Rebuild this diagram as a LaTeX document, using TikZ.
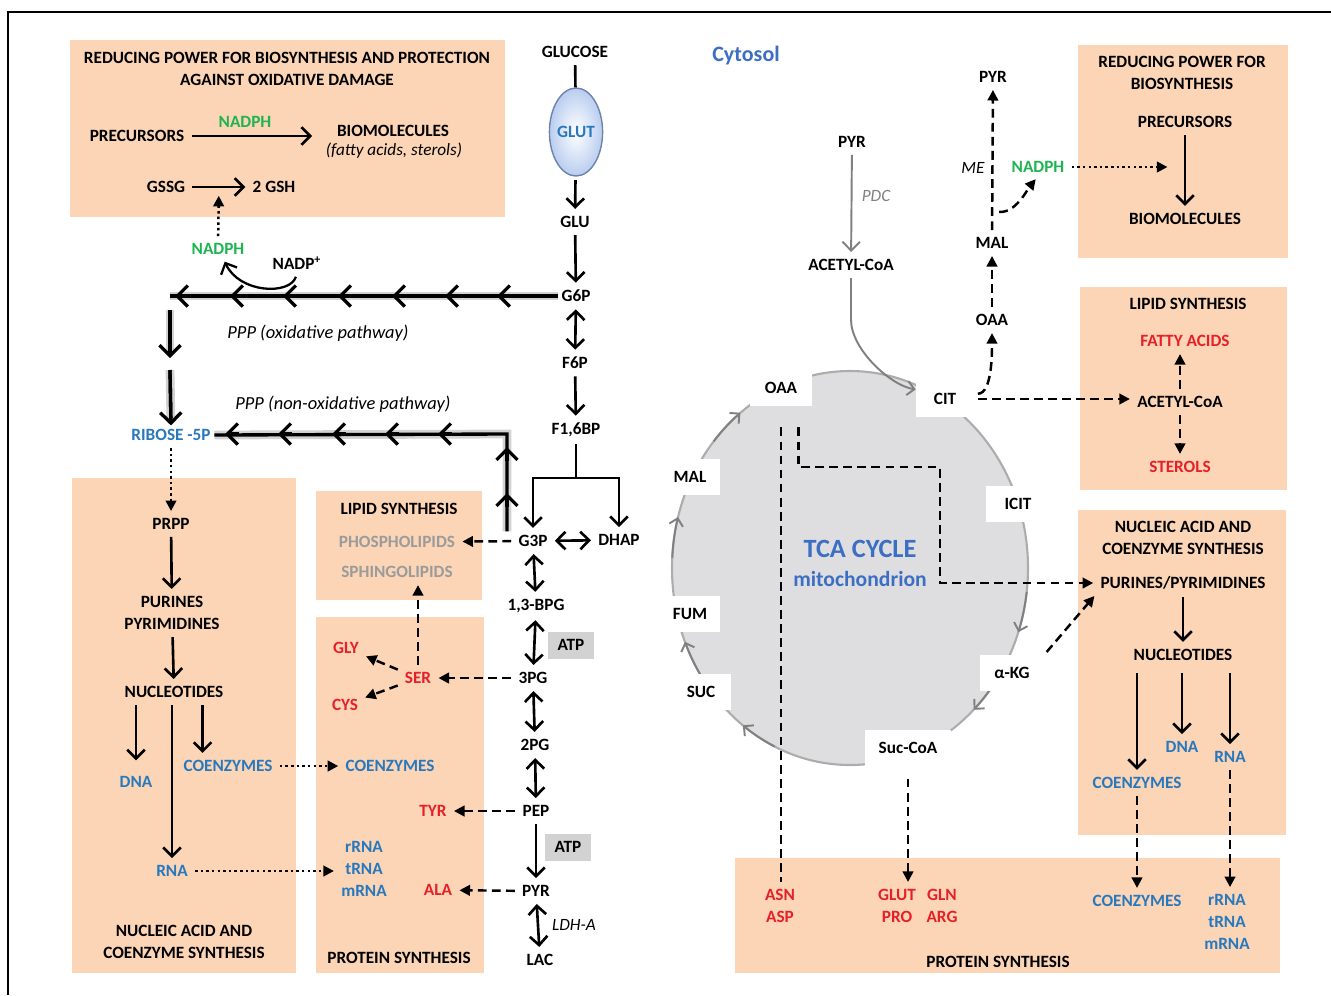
\documentclass[tikz,border=0pt]{standalone}
\usepackage{fontspec}
\setmainfont{Carlito}
\usetikzlibrary{arrows.meta,shapes.geometric,calc}
\definecolor{peach}{RGB}{251,213,181}
\definecolor{aared}{RGB}{230,32,40}
\definecolor{nucblue}{RGB}{40,120,190}
\definecolor{nadgreen}{RGB}{30,180,80}
\definecolor{lipgray}{RGB}{155,155,155}
\definecolor{tcablue}{RGB}{60,110,195}
\definecolor{tcagray}{RGB}{222,222,224}
\definecolor{glutfill}{RGB}{185,205,240}
\definecolor{glutedge}{RGB}{110,130,170}
\tikzset{
  every node/.style={font=\fontsize{9.8}{12.5}\selectfont\bfseries, align=center, inner sep=2pt},
  box/.style={fill=peach},
  aa/.style={text=aared},
  nuc/.style={text=nucblue},
  nad/.style={text=nadgreen},
  lip/.style={text=lipgray},
  enz/.style={font=\fontsize{9.8}{12}\selectfont\itshape},
  route/.style={font=\fontsize{10.5}{12}\selectfont\itshape},
  fwd/.style={line width=1.5pt, -{Straight Barb[length=5pt,width=10pt]}, shorten <=2pt, shorten >=2pt},
  rev/.style={line width=1.5pt, {Straight Barb[length=5pt,width=10pt]}-{Straight Barb[length=5pt,width=10pt]}, shorten <=2pt, shorten >=2pt},
  dasharr/.style={line width=1.4pt, dash pattern=on 5pt off 3pt, -{Triangle[length=6pt,width=6pt]}, shorten <=2pt, shorten >=2pt},
  dashline/.style={line width=1.4pt, dash pattern=on 5pt off 3pt, shorten <=2pt, shorten >=2pt},
  dotarr/.style={line width=1.4pt, dash pattern=on 1.4pt off 1.8pt, -{Triangle[length=6pt,width=6pt]}, shorten <=2pt, shorten >=2pt},
  ppp/.style={line width=1.9pt, preaction={draw=gray!35, line width=5pt}},
  ppptip/.style={line width=1.9pt, -{Straight Barb[length=6pt,width=12pt]}},
  atpbox/.style={fill=gray!35, minimum width=0.92cm, minimum height=0.54cm},
  tcabox/.style={fill=white, minimum height=0.72cm},
  cyc/.style={gray, line width=1.1pt, -{Straight Barb[length=4pt,width=8pt]}}
}
\begin{document}
\begin{tikzpicture}[x=0.02cm,y=-0.02cm]
\useasboundingbox (0,0) rectangle (1331,995);
\draw[line width=1.2pt] (8,995) -- (8,12) -- (1331,12);

\fill[box] (70,40) rectangle (505,217);
\fill[box] (72,478) rectangle (296,973);
\fill[box] (316,491) rectangle (482,600);
\fill[box] (316,617) rectangle (484,973);
\fill[box] (1078,45) rectangle (1288,258);
\fill[box] (1080,287) rectangle (1287,490);
\fill[box] (1078,510) rectangle (1286,835);
\fill[box] (735,858) rectangle (1280,973);

\filldraw[fill=tcagray, draw=gray!65, line width=1.2pt] (850,568) ellipse [x radius=178, y radius=197];
\foreach \a in {-128,-165,-202,-233,46,19}
  \draw[cyc] ($(850,568)+(\a-12:178 and 197)$) arc[start angle=\a-12, end angle=\a, x radius=178, y radius=197];

\node[tcabox, minimum width=1.24cm] (oaa) at (781,388) {OAA};
\node[tcabox, minimum width=1.16cm] (cit) at (945,399) {CIT};
\node[tcabox, minimum width=1.3cm] (icit) at (1018,504) {ICIT};
\node[tcabox, minimum width=1.28cm] (akg) at (1012,673) {α-KG};
\node[tcabox, minimum width=1.72cm] (succoa) at (908,748) {Suc-CoA};
\node[tcabox, minimum width=1.2cm] (suc) at (701,692) {SUC};
\node[tcabox, minimum width=1.2cm] (fum) at (690,614) {FUM};
\node[tcabox, minimum width=1.2cm] (mal) at (690,477) {MAL};
\node[font=\fontsize{15}{18}\selectfont\bfseries, text=tcablue] (tcattl) at (860,549) {TCA CYCLE};
\node[font=\fontsize{12.3}{14}\selectfont\bfseries, text=tcablue] (mito) at (860,579) {mitochondrion};
\node[font=\fontsize{12.5}{14}\selectfont\bfseries, text=tcablue] (cytosol) at (746,56) {Cytosol};

\node (redttlL) at (287,69) {REDUCING POWER FOR BIOSYNTHESIS AND PROTECTION\\AGAINST OXIDATIVE DAMAGE};
\node (prec1) at (137,136) {PRECURSORS};
\node (bio1) at (393,131) {BIOMOLECULES};
\node[enz] (fatty1) at (394,151) {(fatty acids, sterols)};
\node[nad] (nadph1) at (245,122) {NADPH};
\node (gssg) at (166,187) {GSSG};
\node (gsh) at (274,187) {2 GSH};
\node[nad] (nadph2) at (218,249) {NADPH};
\node (nadp) at (297,263) {NADP\textsuperscript{+}};
\coordinate (gshmid) at ($(gssg.east)!.5!(gsh.west)$);
\draw[fwd, shorten >=12pt] (prec1) -- (prec1 -| bio1.west);
\draw[fwd] (gssg) -- (gsh);
\draw[dotarr, shorten >=5pt] (nadph2) -- (gshmid);
\draw[fwd, line width=1.3pt] (nadp.south) .. controls +(-7,22) and +(16,35) .. ([xshift=3pt]nadph2.south);

\node (glucose) at (575,52) {GLUCOSE};
\node[ellipse, draw=glutedge, line width=0.8pt, inner color=white, outer color=glutfill, minimum width=0.92cm, minimum height=1.76cm, inner sep=0pt, text=nucblue] (glut) at (576,132) {GLUT};
\node (glu) at (575,222) {GLU};
\node (g6p) at (576,296) {G6P};
\node (f6p) at (575,363) {F6P};
\node (f16bp) at (576,430) {F1,6BP};
\node (g3p) at (533,541) {G3P};
\node (dhap) at (619,540) {DHAP};
\node (bpg) at (536,606) {1,3-BPG};
\node (pg3) at (533,678) {3PG};
\node (pg2) at (535,745) {2PG};
\node (pep) at (536,811) {PEP};
\node (pyr) at (536,891) {PYR};
\node (lac) at (540,960) {LAC};
\node[atpbox] (atp1) at (571,645) {ATP};
\node[atpbox] (atp2) at (568,847) {ATP};
\node[enz] (ldh) at (574,925) {LDH-A};
\coordinate (br) at (576,478);
\draw[line width=1.5pt, shorten <=2pt] (glucose) -- (glut);
\draw[fwd] (glut) -- (glu);
\draw[fwd] (glu) -- (g6p);
\draw[rev] (g6p) -- (f6p);
\draw[fwd] (f6p) -- (f16bp);
\draw[line width=1.5pt, shorten <=2pt] (f16bp) -- (br);
\draw[fwd, shorten <=0pt] (br) -| (g3p);
\draw[fwd, shorten <=0pt] (br) -| (dhap);
\draw[rev] (g3p) -- (dhap);
\draw[rev] (g3p) -- (bpg);
\draw[rev] (bpg) -- (pg3);
\draw[rev] (pg3) -- (pg2);
\draw[rev] (pg2) -- (pep);
\draw[fwd] (pep) -- (pyr);
\draw[rev] (pyr) -- (lac);

\node[nuc] (ribose) at (171,435) {RIBOSE -5P};
\node[route] (oxlbl) at (318,333) {PPP (oxidative pathway)};
\node[route] (noxlbl) at (343,404) {PPP (non-oxidative pathway)};
\coordinate (oxc) at (170,296);
\coordinate (nox) at (507,434);
\coordinate (ox1) at ($(oxc)+(0,14)$);
\coordinate (ox2) at ($(oxc)+(0,62)$);
\coordinate (ox3) at ($(oxc)+(0,74)$);
\draw[ppp] (g6p.west) -- (oxc);
\draw[ppp, shorten >=4pt] (ox1) -- (ox2);
\draw[ppp, shorten >=4pt] (ox3) -- (ribose.north);
\draw[ppptip] (ox1) -- (ox2);
\draw[ppptip] (ox3) -- (ribose.north);
\foreach \x in {175,230,283,338,392,445,497}
  \draw[ppptip] (\x+14,296) -- (\x,296);
\draw[ppp] (nox |- g3p.north) -- (nox) -- (ribose.east);
\foreach \y in {447,493}
  \draw[ppptip] (507,\y+14) -- (507,\y);
\foreach \x in {225,278,332,385,438}
  \draw[ppptip] (\x+14,434) -- (\x,434);

\node (prpp) at (171,524) {PRPP};
\node (purL) at (172,613) {PURINES\\PYRIMIDINES};
\node (nuclL) at (174,692) {NUCLEOTIDES};
\node[nuc] (dnaL) at (136,782) {DNA};
\node[nuc] (coenzL) at (228,766) {COENZYMES};
\node[nuc] (rnaL) at (172,871) {RNA};
\node (nucttlL) at (184,942) {NUCLEIC ACID AND\\COENZYME SYNTHESIS};
\coordinate (cz) at ([xshift=13pt]coenzL.north west);
\draw[dotarr] (ribose) -- (prpp);
\draw[fwd] (prpp) -- (purL);
\draw[fwd] (purL) -- (nuclL);
\draw[fwd, shorten >=7pt] (dnaL |- nuclL.south) -- (dnaL.north);
\draw[fwd] (rnaL |- nuclL.south) -- (rnaL);
\draw[fwd] (cz |- nuclL.south) -- (cz);

\node (lipttlM) at (399,509) {LIPID SYNTHESIS};
\node[lip] (phos) at (397,542) {PHOSPHOLIPIDS};
\node[lip] (sphingo) at (397,572) {SPHINGOLIPIDS};
\node[aa] (gly) at (346,648) {GLY};
\node[aa] (ser) at (418,678) {SER};
\node[aa] (cys) at (345,705) {CYS};
\node[nuc] (coenzM) at (390,766) {COENZYMES};
\node[aa] (tyr) at (433,811) {TYR};
\node[nuc] (rnalistM) at (364,869) {rRNA\\tRNA\\mRNA};
\node[aa] (ala) at (438,890) {ALA};
\node (protttlM) at (399,958) {PROTEIN SYNTHESIS};
\draw[dotarr] (coenzL) -- (coenzM);
\draw[dotarr] (rnaL) -- (rnaL -| rnalistM.west);
\draw[dasharr] (g3p) -- (phos);
\draw[dasharr] (pg3) -- (ser);
\draw[dasharr] (pep) -- (tyr);
\draw[dasharr] (pyr) -- (ala);
\draw[dasharr] (ser) -- (gly);
\draw[dasharr] (ser) -- (cys);
\draw[dasharr] (ser) -- (ser |- sphingo.south);

\node (pyrM) at (852,142) {PYR};
\node (acetM) at (851,265) {ACETYL-CoA};
\node[enz, text=gray] (pdc) at (876,196) {PDC};
\draw[fwd, gray, line width=1.1pt] (pyrM) -- (acetM);
\draw[cyc, shorten <=2pt] (acetM.south) -- ($(acetM.south)+(0,45)$) .. controls +(0,30) and +(-25,-4) .. ([yshift=-5pt]cit.north west);

\node (oaaU) at (992,320) {OAA};
\node (malU) at (992,243) {MAL};
\node (pyrU) at (993,77) {PYR};
\node[enz] (me) at (973,168) {ME};
\node[nad] (nadphU) at (1038,167) {NADPH};
\coordinate (mebr) at ($(malU.north)!0.15!(pyrU.south)$);
\draw[dasharr] ([yshift=3pt]cit.east) .. controls +(18,0) and +(0,22) .. (oaaU.south);
\draw[dasharr] (oaaU) -- (malU);
\draw[dasharr] (malU) -- (pyrU);
\draw[dasharr] ([xshift=2pt]mebr) .. controls +(20,2) and +(-10,12) .. (nadphU.south);

\node (redttlR) at (1182,73) {REDUCING POWER FOR\\BIOSYNTHESIS};
\node (precR) at (1185,122) {PRECURSORS};
\node (bioR) at (1185,219) {BIOMOLECULES};
\draw[fwd] (precR) -- (bioR);
\draw[dotarr, shorten >=10pt] (nadphU) -- (nadphU -| precR.south);

\node (lipttlR) at (1188,304) {LIPID SYNTHESIS};
\node[aa] (fattyR) at (1185,341) {FATTY ACIDS};
\node (acetR) at (1180,402) {ACETYL-CoA};
\node[aa] (sterR) at (1180,467) {STEROLS};
\draw[dasharr] (acetR) -- (acetR |- fattyR.south);
\draw[dasharr] (acetR) -- (sterR);
\draw[dasharr] (cit) -- (cit -| acetR.west);

\node (nucttlR) at (1183,538) {NUCLEIC ACID AND\\COENZYME SYNTHESIS};
\node (purR) at (1183,583) {PURINES/PYRIMIDINES};
\node (nuclR) at (1183,655) {NUCLEOTIDES};
\node[nuc] (dnaR) at (1182,747) {DNA};
\node[nuc] (rnaR) at (1230,757) {RNA};
\node[nuc] (coenzR) at (1137,783) {COENZYMES};
\draw[fwd] (purR) -- (nuclR);
\draw[fwd, shorten <=5pt] (coenzR |- nuclR.south) -- (coenzR);
\draw[fwd, shorten <=5pt] (dnaR |- nuclR.south) -- (dnaR);
\draw[fwd, shorten <=5pt] (rnaR |- nuclR.south) -- (rnaR);

\node[aa] (asn) at (780,906) {ASN\\ASP};
\node[aa] (aa2) at (897,906) {GLUT\\PRO};
\node[aa] (aa3) at (942,906) {GLN\\ARG};
\node[nuc] (coenzB) at (1137,901) {COENZYMES};
\node[nuc] (rnalistB) at (1227,922) {rRNA\\tRNA\\mRNA};
\node (protttlB) at (998,962) {PROTEIN SYNTHESIS};
\draw[dasharr] (coenzR) -- (coenzB);
\draw[dasharr] (rnaR) -- (rnaR |- rnalistB.north);

\draw[dashline, shorten <=12pt] (oaa.south) -- (oaa.south |- asn.north);
\draw[dasharr] ([xshift=10pt,yshift=-10pt]oaa.south) |- (940,467) |- (purR.west);
\draw[dasharr] (akg.north east) -- (purR.south west);
\draw[dasharr, shorten <=7pt] (succoa.south) -- (succoa.south |- aa2.north);
\end{tikzpicture}
\end{document}
